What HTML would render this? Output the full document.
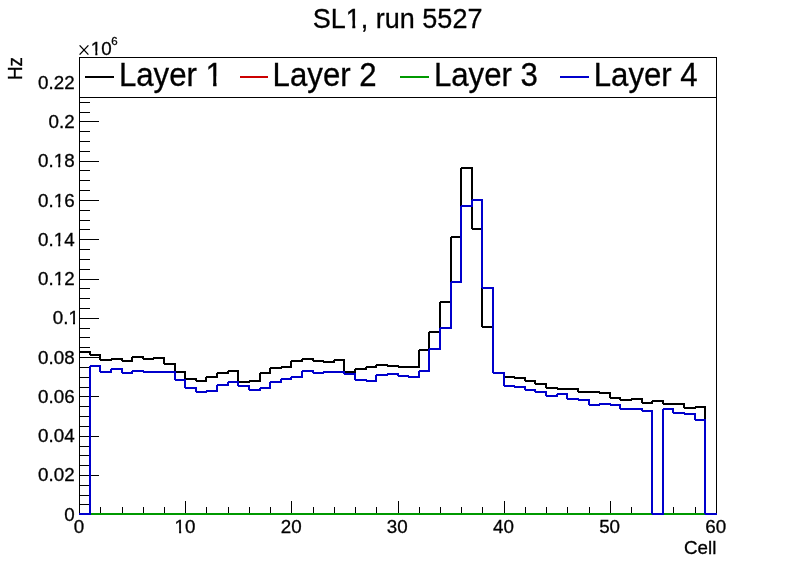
<!DOCTYPE html>
<html><head><meta charset="utf-8"><title>SL1, run 5527</title>
<style>
html,body{margin:0;padding:0;background:#fff;}
span.o{display:inline-block;clip-path:polygon(0 0,100% 0,100% 55%,63% 55%,63% 100%,43.5% 100%,43.5% 55%,0 55%);}
body{width:796px;height:572px;position:relative;overflow:hidden;font-family:"Liberation Sans",sans-serif;color:#000;}
</style></head><body>
<svg width="796" height="572" viewBox="0 0 796 572" style="position:absolute;left:0;top:0" shape-rendering="crispEdges">
<rect x="79.5" y="57.5" width="637" height="456" fill="none" stroke="#000" stroke-width="1"/>
<line x1="80" y1="504.5" x2="90" y2="504.5" stroke="#000"/>
<line x1="80" y1="495.5" x2="90" y2="495.5" stroke="#000"/>
<line x1="80" y1="485.5" x2="90" y2="485.5" stroke="#000"/>
<line x1="80" y1="475.5" x2="99" y2="475.5" stroke="#000"/>
<line x1="80" y1="465.5" x2="90" y2="465.5" stroke="#000"/>
<line x1="80" y1="455.5" x2="90" y2="455.5" stroke="#000"/>
<line x1="80" y1="446.5" x2="90" y2="446.5" stroke="#000"/>
<line x1="80" y1="436.5" x2="99" y2="436.5" stroke="#000"/>
<line x1="80" y1="426.5" x2="90" y2="426.5" stroke="#000"/>
<line x1="80" y1="416.5" x2="90" y2="416.5" stroke="#000"/>
<line x1="80" y1="406.5" x2="90" y2="406.5" stroke="#000"/>
<line x1="80" y1="396.5" x2="99" y2="396.5" stroke="#000"/>
<line x1="80" y1="387.5" x2="90" y2="387.5" stroke="#000"/>
<line x1="80" y1="377.5" x2="90" y2="377.5" stroke="#000"/>
<line x1="80" y1="367.5" x2="90" y2="367.5" stroke="#000"/>
<line x1="80" y1="357.5" x2="99" y2="357.5" stroke="#000"/>
<line x1="80" y1="347.5" x2="90" y2="347.5" stroke="#000"/>
<line x1="80" y1="337.5" x2="90" y2="337.5" stroke="#000"/>
<line x1="80" y1="328.5" x2="90" y2="328.5" stroke="#000"/>
<line x1="80" y1="318.5" x2="99" y2="318.5" stroke="#000"/>
<line x1="80" y1="308.5" x2="90" y2="308.5" stroke="#000"/>
<line x1="80" y1="298.5" x2="90" y2="298.5" stroke="#000"/>
<line x1="80" y1="288.5" x2="90" y2="288.5" stroke="#000"/>
<line x1="80" y1="279.5" x2="99" y2="279.5" stroke="#000"/>
<line x1="80" y1="269.5" x2="90" y2="269.5" stroke="#000"/>
<line x1="80" y1="259.5" x2="90" y2="259.5" stroke="#000"/>
<line x1="80" y1="249.5" x2="90" y2="249.5" stroke="#000"/>
<line x1="80" y1="239.5" x2="99" y2="239.5" stroke="#000"/>
<line x1="80" y1="229.5" x2="90" y2="229.5" stroke="#000"/>
<line x1="80" y1="220.5" x2="90" y2="220.5" stroke="#000"/>
<line x1="80" y1="210.5" x2="90" y2="210.5" stroke="#000"/>
<line x1="80" y1="200.5" x2="99" y2="200.5" stroke="#000"/>
<line x1="80" y1="190.5" x2="90" y2="190.5" stroke="#000"/>
<line x1="80" y1="180.5" x2="90" y2="180.5" stroke="#000"/>
<line x1="80" y1="170.5" x2="90" y2="170.5" stroke="#000"/>
<line x1="80" y1="161.5" x2="99" y2="161.5" stroke="#000"/>
<line x1="80" y1="151.5" x2="90" y2="151.5" stroke="#000"/>
<line x1="80" y1="141.5" x2="90" y2="141.5" stroke="#000"/>
<line x1="80" y1="131.5" x2="90" y2="131.5" stroke="#000"/>
<line x1="80" y1="121.5" x2="99" y2="121.5" stroke="#000"/>
<line x1="80" y1="112.5" x2="90" y2="112.5" stroke="#000"/>
<line x1="80" y1="102.5" x2="90" y2="102.5" stroke="#000"/>
<line x1="100.5" y1="513" x2="100.5" y2="507" stroke="#000"/>
<line x1="122.5" y1="513" x2="122.5" y2="507" stroke="#000"/>
<line x1="143.5" y1="513" x2="143.5" y2="507" stroke="#000"/>
<line x1="164.5" y1="513" x2="164.5" y2="507" stroke="#000"/>
<line x1="185.5" y1="513" x2="185.5" y2="501" stroke="#000"/>
<line x1="206.5" y1="513" x2="206.5" y2="507" stroke="#000"/>
<line x1="228.5" y1="513" x2="228.5" y2="507" stroke="#000"/>
<line x1="249.5" y1="513" x2="249.5" y2="507" stroke="#000"/>
<line x1="270.5" y1="513" x2="270.5" y2="507" stroke="#000"/>
<line x1="291.5" y1="513" x2="291.5" y2="501" stroke="#000"/>
<line x1="313.5" y1="513" x2="313.5" y2="507" stroke="#000"/>
<line x1="334.5" y1="513" x2="334.5" y2="507" stroke="#000"/>
<line x1="355.5" y1="513" x2="355.5" y2="507" stroke="#000"/>
<line x1="376.5" y1="513" x2="376.5" y2="507" stroke="#000"/>
<line x1="398.5" y1="513" x2="398.5" y2="501" stroke="#000"/>
<line x1="419.5" y1="513" x2="419.5" y2="507" stroke="#000"/>
<line x1="440.5" y1="513" x2="440.5" y2="507" stroke="#000"/>
<line x1="461.5" y1="513" x2="461.5" y2="507" stroke="#000"/>
<line x1="482.5" y1="513" x2="482.5" y2="507" stroke="#000"/>
<line x1="504.5" y1="513" x2="504.5" y2="501" stroke="#000"/>
<line x1="525.5" y1="513" x2="525.5" y2="507" stroke="#000"/>
<line x1="546.5" y1="513" x2="546.5" y2="507" stroke="#000"/>
<line x1="567.5" y1="513" x2="567.5" y2="507" stroke="#000"/>
<line x1="589.5" y1="513" x2="589.5" y2="507" stroke="#000"/>
<line x1="610.5" y1="513" x2="610.5" y2="501" stroke="#000"/>
<line x1="631.5" y1="513" x2="631.5" y2="507" stroke="#000"/>
<line x1="652.5" y1="513" x2="652.5" y2="507" stroke="#000"/>
<line x1="673.5" y1="513" x2="673.5" y2="507" stroke="#000"/>
<line x1="695.5" y1="513" x2="695.5" y2="507" stroke="#000"/>
<clipPath id="fr"><rect x="79" y="57" width="638" height="458"/></clipPath>
<g clip-path="url(#fr)">
<path d="M79 514 L79 352 L90 352 L90 355 L100 355 L100 360 L111 360 L111 359 L122 359 L122 361 L132 361 L132 357 L143 357 L143 359 L153 359 L153 358 L164 358 L164 364 L175 364 L175 372 L185 372 L185 379 L196 379 L196 381 L206 381 L206 377 L217 377 L217 373 L228 373 L228 371 L238 371 L238 382 L249 382 L249 381 L260 381 L260 373 L270 373 L270 368 L281 368 L281 367 L291 367 L291 361 L302 361 L302 359 L313 359 L313 361 L323 361 L323 362 L334 362 L334 360 L344 360 L344 372 L355 372 L355 369 L366 369 L366 367 L376 367 L376 365 L387 365 L387 366 L398 366 L398 367 L408 367 L408 367 L419 367 L419 350 L429 350 L429 332 L440 332 L440 302 L451 302 L451 237 L461 237 L461 168 L472 168 L472 229 L482 229 L482 327 L493 327 L493 373 L504 373 L504 377 L514 377 L514 378 L525 378 L525 381 L535 381 L535 384 L546 384 L546 388 L557 388 L557 389 L567 389 L567 389 L578 389 L578 392 L589 392 L589 392 L599 392 L599 393 L610 393 L610 398 L620 398 L620 400 L631 400 L631 399 L642 399 L642 403 L652 403 L652 401 L663 401 L663 404 L673 404 L673 404 L684 404 L684 408 L695 408 L695 407 L705 407 L705 514 L717 514 L717 514" fill="none" stroke="#000" stroke-width="2" stroke-linejoin="bevel" transform="translate(0,0)"/>
<path d="M79 514 L717 514" stroke="#cc0000" stroke-width="2" fill="none"/>
<path d="M79 514 L717 514" stroke="#009900" stroke-width="2" fill="none"/>
<path d="M79 514 L79 514 L90 514 L90 366 L100 366 L100 372 L111 372 L111 369 L122 369 L122 373 L132 373 L132 371 L143 371 L143 372 L153 372 L153 372 L164 372 L164 372 L175 372 L175 380 L185 380 L185 388 L196 388 L196 392 L206 392 L206 391 L217 391 L217 385 L228 385 L228 382 L238 382 L238 386 L249 386 L249 390 L260 390 L260 388 L270 388 L270 382 L281 382 L281 379 L291 379 L291 377 L302 377 L302 371 L313 371 L313 373 L323 373 L323 372 L334 372 L334 372 L344 372 L344 374 L355 374 L355 380 L366 380 L366 381 L376 381 L376 375 L387 375 L387 374 L398 374 L398 376 L408 376 L408 377 L419 377 L419 371 L429 371 L429 349 L440 349 L440 328 L451 328 L451 282 L461 282 L461 206 L472 206 L472 200 L482 200 L482 288 L493 288 L493 373 L504 373 L504 386 L514 386 L514 387 L525 387 L525 390 L535 390 L535 392 L546 392 L546 396 L557 396 L557 394 L567 394 L567 399 L578 399 L578 400 L589 400 L589 405 L599 405 L599 404 L610 404 L610 405 L620 405 L620 409 L631 409 L631 409 L642 409 L642 411 L652 411 L652 514 L663 514 L663 409 L673 409 L673 413 L684 413 L684 414 L695 414 L695 420 L705 420 L705 514 L717 514 L717 514" fill="none" stroke="#0000cc" stroke-width="2" stroke-linejoin="bevel"/>
</g>
<rect x="79.5" y="57.5" width="637" height="40" fill="#fff" stroke="#000" stroke-width="1"/>
<line x1="85" y1="77" x2="114" y2="77" stroke="#000" stroke-width="2"/>
<line x1="240" y1="77" x2="268" y2="77" stroke="#cc0000" stroke-width="2"/>
<line x1="400" y1="77" x2="429" y2="77" stroke="#009900" stroke-width="2"/>
<line x1="560" y1="77" x2="589" y2="77" stroke="#0000cc" stroke-width="2"/>
<g shape-rendering="auto" stroke="#000" stroke-width="1.35" fill="none"><path d="M79.6 45.4 L88.4 54.6 M88.4 45.4 L79.6 54.6"/></g>
</svg>
<div style="position:absolute;left:0;top:0;width:796px;height:572px;will-change:transform;transform:translateZ(0);filter:grayscale(1);-webkit-text-stroke:0.3px #000;">
<div style="position:absolute;white-space:nowrap;font-size:27px;line-height:1;left:397.6px;top:5.7765px;transform-origin:0 22.4235px;transform:translateX(-50%) scaleY(1.05);">SL<span class="o">1</span>, run 5527</div>
<div style="position:absolute;white-space:nowrap;font-size:18.8px;line-height:1;right:721.4px;top:505.687px;">0</div>
<div style="position:absolute;white-space:nowrap;font-size:18.8px;line-height:1;right:721.4px;top:466.417px;">0.02</div>
<div style="position:absolute;white-space:nowrap;font-size:18.8px;line-height:1;right:721.4px;top:427.147px;">0.04</div>
<div style="position:absolute;white-space:nowrap;font-size:18.8px;line-height:1;right:721.4px;top:387.877px;">0.06</div>
<div style="position:absolute;white-space:nowrap;font-size:18.8px;line-height:1;right:721.4px;top:348.607px;">0.08</div>
<div style="position:absolute;white-space:nowrap;font-size:18.8px;line-height:1;right:717.1px;top:309.337px;">0.<span class="o">1</span></div>
<div style="position:absolute;white-space:nowrap;font-size:18.8px;line-height:1;right:721.4px;top:270.067px;">0.<span class="o">1</span>2</div>
<div style="position:absolute;white-space:nowrap;font-size:18.8px;line-height:1;right:721.4px;top:230.797px;">0.<span class="o">1</span>4</div>
<div style="position:absolute;white-space:nowrap;font-size:18.8px;line-height:1;right:721.4px;top:191.527px;">0.<span class="o">1</span>6</div>
<div style="position:absolute;white-space:nowrap;font-size:18.8px;line-height:1;right:721.4px;top:152.257px;">0.<span class="o">1</span>8</div>
<div style="position:absolute;white-space:nowrap;font-size:18.8px;line-height:1;right:721.4px;top:112.987px;">0.2</div>
<div style="position:absolute;white-space:nowrap;font-size:18.8px;line-height:1;right:721.4px;top:73.7166px;">0.22</div>
<div style="position:absolute;white-space:nowrap;font-size:18.8px;line-height:1;left:78.88px;top:518.387px;transform-origin:0 15.6134px;transform:translateX(-50%) scaleY(1);">0</div>
<div style="position:absolute;white-space:nowrap;font-size:18.8px;line-height:1;left:185.02px;top:518.387px;transform-origin:0 15.6134px;transform:translateX(-50%) scaleY(1);"><span class="o">1</span>0</div>
<div style="position:absolute;white-space:nowrap;font-size:18.8px;line-height:1;left:291.16px;top:518.387px;transform-origin:0 15.6134px;transform:translateX(-50%) scaleY(1);">20</div>
<div style="position:absolute;white-space:nowrap;font-size:18.8px;line-height:1;left:397.3px;top:518.387px;transform-origin:0 15.6134px;transform:translateX(-50%) scaleY(1);">30</div>
<div style="position:absolute;white-space:nowrap;font-size:18.8px;line-height:1;left:503.44px;top:518.387px;transform-origin:0 15.6134px;transform:translateX(-50%) scaleY(1);">40</div>
<div style="position:absolute;white-space:nowrap;font-size:18.8px;line-height:1;left:609.58px;top:518.387px;transform-origin:0 15.6134px;transform:translateX(-50%) scaleY(1);">50</div>
<div style="position:absolute;white-space:nowrap;font-size:18.8px;line-height:1;left:715.72px;top:518.387px;transform-origin:0 15.6134px;transform:translateX(-50%) scaleY(1);">60</div>
<div style="position:absolute;white-space:nowrap;font-size:18.8px;line-height:1;right:79.7px;top:538.587px;">Cell</div>
<div style="position:absolute;white-space:nowrap;font-size:18.8px;line-height:1;left:90.8px;top:40.4866px;"><span class="o">1</span>0</div>
<div style="position:absolute;white-space:nowrap;font-size:11.5px;line-height:1;left:111.2px;top:35.7492px;">6</div>
<div style="position:absolute;left:26.4px;top:80.3px;font-size:18.8px;line-height:1;white-space:nowrap;transform-origin:0 0;transform:rotate(-90deg) translateY(-100%);"><span style="display:inline-block;transform-origin:0 83%;transform:scaleY(1.07)">Hz</span></div>
<div style="position:absolute;white-space:nowrap;font-size:31.2px;line-height:1;left:118.9px;top:60.0884px;transform-origin:0 25.9116px;transform:scaleY(1.09);">Layer <span class="o">1</span></div>
<div style="position:absolute;white-space:nowrap;font-size:31.2px;line-height:1;left:272.6px;top:60.0884px;transform-origin:0 25.9116px;transform:scaleY(1.09);">Layer 2</div>
<div style="position:absolute;white-space:nowrap;font-size:31.2px;line-height:1;left:433.9px;top:60.0884px;transform-origin:0 25.9116px;transform:scaleY(1.09);">Layer 3</div>
<div style="position:absolute;white-space:nowrap;font-size:31.2px;line-height:1;left:593.7px;top:60.0884px;transform-origin:0 25.9116px;transform:scaleY(1.09);">Layer 4</div>
</div>
</body></html>
